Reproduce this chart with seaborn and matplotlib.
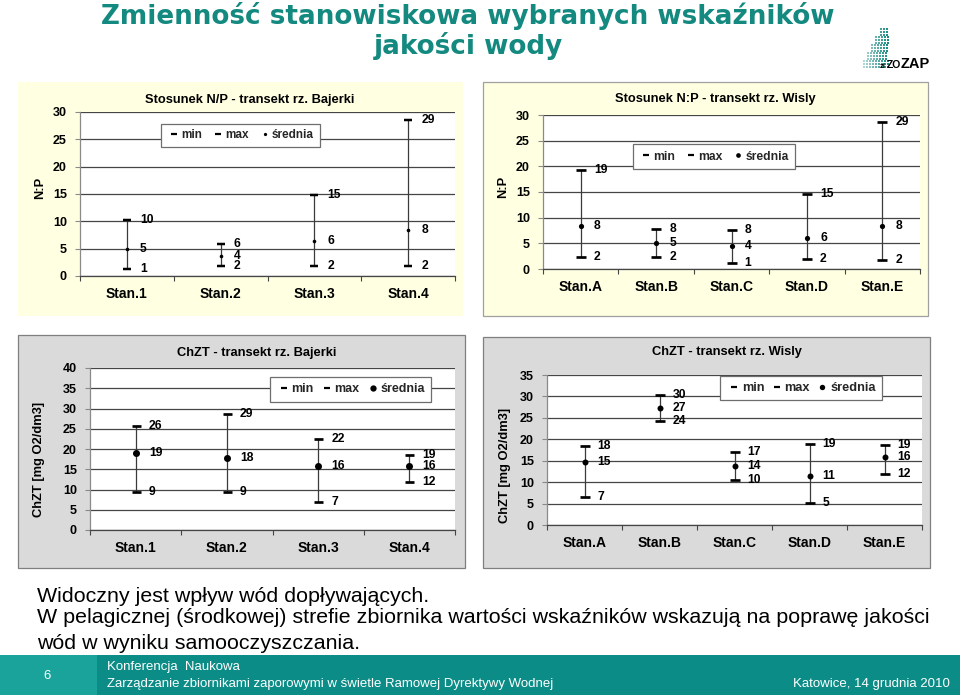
import numpy as np
import pandas as pd
import matplotlib
matplotlib.use("Agg")
import matplotlib.pyplot as plt
from matplotlib.patches import Rectangle
from matplotlib.lines import Line2D
import seaborn as sns

# ---------------- data ----------------
np_bajerki_stations = ["Stan.1", "Stan.2", "Stan.3", "Stan.4"]
np_bajerki_min = [1.2, 1.9, 1.9, 1.9]
np_bajerki_max = [10.2, 5.9, 14.8, 28.6]
np_bajerki_mean = [5.0, 3.7, 6.4, 8.4]

np_wisla_stations = ["Stan.A", "Stan.B", "Stan.C", "Stan.D", "Stan.E"]
np_wisla_min = [2.3, 2.3, 1.2, 1.9, 1.7]
np_wisla_max = [19.2, 7.8, 7.6, 14.6, 28.6]
np_wisla_mean = [8.4, 5.1, 4.4, 6.0, 8.3]

chzt_bajerki_stations = ["Stan.1", "Stan.2", "Stan.3", "Stan.4"]
chzt_bajerki_min = [9.4, 9.3, 6.8, 11.8]
chzt_bajerki_max = [25.6, 28.7, 22.4, 18.6]
chzt_bajerki_mean = [19.1, 17.7, 15.8, 15.8]

chzt_wisla_stations = ["Stan.A", "Stan.B", "Stan.C", "Stan.D", "Stan.E"]
chzt_wisla_min = [6.6, 24.3, 10.4, 5.1, 11.8]
chzt_wisla_max = [18.4, 30.4, 17.0, 18.9, 18.6]
chzt_wisla_mean = [14.6, 27.4, 13.8, 11.4, 15.9]

legend_labels = ["min", "max", "średnia"]

panel_titles = ["Stosunek N/P - transekt rz. Bajerki",
                "Stosunek N:P - transekt rz. Wisly",
                "ChZT - transekt rz. Bajerki",
                "ChZT - transekt rz. Wisly"]
panel_ylabels = ["N:P", "N:P", "ChZT [mg O2/dm3]", "ChZT [mg O2/dm3]"]
panel_ymax = [30, 30, 40, 35]

slide_title = ["Zmienność stanowiskowa wybranych wskaźników", "jakości wody"]
body_lines = ["Widoczny jest wpływ wód dopływających.",
              "W pelagicznej (środkowej) strefie zbiornika wartości wskaźników wskazują na poprawę jakości",
              "wód w wyniku samooczyszczania."]
footer_num = "6"
footer_lines = ["Konferencja  Naukowa",
                "Zarządzanie zbiornikami zaporowymi w świetle Ramowej Dyrektywy Wodnej"]
footer_right = "Katowice, 14 grudnia 2010"
logo_parts = ["zi", "ZO", "ZAP"]

# ---------------- style ----------------
sns.set_theme(style="ticks")
plt.rcParams['font.family'] = ['Liberation Sans', 'DejaVu Sans']

W, H = 960, 695
fig = plt.figure(figsize=(W / 100, H / 100), dpi=100)
fig.patch.set_facecolor("white")
TEAL = "#13897f"


def fx(x):
    return x / W


def fy(y):
    return 1 - y / H


def frect(l, t, r, b):
    return [l / W, 1 - b / H, (r - l) / W, (b - t) / H]


def add_rect(l, t, r, b, fc, ec="none", lw=0.0, z=-5, alpha=1.0):
    fig.add_artist(Rectangle((l / W, 1 - b / H), (r - l) / W, (b - t) / H,
                             transform=fig.transFigure, facecolor=fc,
                             edgecolor=ec, linewidth=lw, zorder=z, alpha=alpha))


renderer = fig.canvas.get_renderer()


def fit_width(t, target_px):
    for _ in range(3):
        w = t.get_window_extent(renderer).width
        t.set_fontsize(t.get_fontsize() * target_px / w)
    return t.get_fontsize()


# ---------------- panels ----------------
panel_layout = [
    dict(bg=(18, 82, 463, 316), bgc="#FFFFE1", ec="none",
         plot=(80, 112, 455, 276), title=(250, 100), ylab=(40, 188),
         leg=(161, 123, 320, 148), dash=8.7, th=2.5, dot=3.6, lfs=8.5),
    dict(bg=(483, 82, 928, 316), bgc="#FFFFE1", ec="#a0a0a0",
         plot=(543, 115, 920, 269), title=(715, 99), ylab=(503, 187),
         leg=(633, 144, 795, 169), dash=10, th=2.7, dot=5.2, lfs=8.7),
    dict(bg=(18, 335, 465, 568), bgc="#DADADA", ec="#7f7f7f",
         plot=(90, 368, 455, 530), title=(257, 353), ylab=(39, 459),
         leg=(270, 377, 431, 402), dash=9, th=2.7, dot=7, lfs=9.0),
    dict(bg=(483, 337, 930, 568), bgc="#DADADA", ec="#7f7f7f",
         plot=(547, 375, 922, 525), title=(727, 352), ylab=(505, 465),
         leg=(720, 376, 882, 400), dash=10, th=2.7, dot=6, lfs=9.2),
]

panel_data = [
    (np_bajerki_stations, np_bajerki_min, np_bajerki_max, np_bajerki_mean),
    (np_wisla_stations, np_wisla_min, np_wisla_max, np_wisla_mean),
    (chzt_bajerki_stations, chzt_bajerki_min, chzt_bajerki_max, chzt_bajerki_mean),
    (chzt_wisla_stations, chzt_wisla_min, chzt_wisla_max, chzt_wisla_mean),
]

PX = 0.72  # points per pixel

for k, (lay, (stations, mins, maxs, means)) in enumerate(zip(panel_layout, panel_data)):
    add_rect(*lay["bg"], fc=lay["bgc"], ec=lay["ec"], lw=0.9 if lay["ec"] != "none" else 0)
    ax = fig.add_axes(frect(*lay["plot"]))
    ax.set_facecolor("white")
    n = len(stations)
    df = pd.DataFrame({"pos": np.arange(n), "stan": stations,
                       "min": mins, "max": maxs, "mean": means})

    # high-low lines
    ax.vlines(df["pos"], df["min"], df["max"], color="#3a3a3a", lw=0.9, zorder=3)
    dash_s = (lay["dash"] * PX) ** 2
    for col in ["min", "max"]:
        sns.scatterplot(data=df, x="pos", y=col, marker="_", s=dash_s,
                        color="black", linewidth=lay["th"] * PX, ax=ax,
                        zorder=4, legend=False)
    sns.scatterplot(data=df, x="pos", y="mean", marker="o", s=(lay["dot"] * PX) ** 2,
                    color="black", edgecolor="black", linewidth=0, ax=ax,
                    zorder=5, legend=False)

    for col in ["min", "max", "mean"]:
        for xi, v in zip(df["pos"], df[col]):
            ax.annotate(f"{int(np.floor(v + 0.5))}", xy=(xi, v), xytext=(9.5, 0),
                        textcoords="offset points", ha="left", va="center",
                        fontsize=8.7, fontweight="bold", color="black", zorder=6)

    ymax = panel_ymax[k]
    ax.set_xlim(-0.5, n - 0.5)
    ax.set_ylim(0, ymax)
    ax.set_yticks(np.arange(0, ymax + 1, 5))
    ax.set_xticks(df["pos"])
    ax.set_xticklabels(stations)
    ax.set_xticks(np.arange(n + 1) - 0.5, minor=True)
    ax.set_xlabel("")
    ax.set_ylabel("")
    ax.yaxis.grid(True, color="#454545", lw=0.9)
    ax.xaxis.grid(False)
    ax.set_axisbelow(True)
    for s in ["top", "right"]:
        ax.spines[s].set_visible(False)
    ax.spines["left"].set_color("#8a8a8a")
    ax.spines["left"].set_linewidth(0.9)
    ax.spines["bottom"].set_color("#454545")
    ax.spines["bottom"].set_linewidth(0.9)
    ax.tick_params(axis="y", which="major", left=True, length=3.5, width=0.8,
                   color="#8a8a8a", pad=6, labelsize=9)
    ax.tick_params(axis="x", which="major", bottom=True, length=0, pad=8, labelsize=10)
    ax.tick_params(axis="x", which="minor", bottom=True, length=3.5, width=0.8,
                   color="#454545", direction="out")
    for lab in ax.get_xticklabels() + ax.get_yticklabels():
        lab.set_fontweight("bold")
        lab.set_color("black")

    # title & y label
    fig.text(fx(lay["title"][0]), fy(lay["title"][1]), panel_titles[k], ha="center",
             va="center", fontsize=9.3, fontweight="bold", color="black")
    fig.text(fx(lay["ylab"][0]), fy(lay["ylab"][1]), panel_ylabels[k], ha="center",
             va="center", rotation=90, fontsize=9.3, fontweight="bold", color="black")

    # legend
    l, t, r, b = lay["leg"]
    handles = [
        Line2D([], [], ls="none", marker="_", color="black",
               markersize=6 * PX, markeredgewidth=2.2 * PX),
        Line2D([], [], ls="none", marker="_", color="black",
               markersize=6 * PX, markeredgewidth=2.2 * PX),
        Line2D([], [], ls="none", marker="o", color="black",
               markersize=lay["dot"] * PX * 0.9, markeredgewidth=0),
    ]
    leg = ax.legend(handles, legend_labels, ncol=3, loc="center", mode="expand",
                    bbox_to_anchor=(l / W, 1 - b / H, (r - l) / W, (b - t) / H),
                    bbox_transform=fig.transFigure, frameon=True, fancybox=False,
                    edgecolor="#6e6e6e", facecolor="white", framealpha=1,
                    borderpad=0.5, handlelength=1.2, handletextpad=0.0,
                    columnspacing=0.5, borderaxespad=0,
                    prop={"weight": "bold", "size": lay["lfs"]})
    leg.get_frame().set_linewidth(0.9)
    leg.set_zorder(10)

# ---------------- slide title ----------------
title_family = ["DejaVu Sans"]
t1 = fig.text(fx(467.5), fy(24), slide_title[0], ha="center", va="baseline",
              color=TEAL, fontweight="bold", family=title_family, fontsize=20)
fs = fit_width(t1, 735)
fig.text(fx(468), fy(54), slide_title[1], ha="center", va="baseline",
         color=TEAL, fontweight="bold", family=title_family, fontsize=fs)

# ---------------- logo ----------------
steps = [(60, 68, 863), (52, 60, 867), (44, 52, 871), (36, 44, 875), (28, 36, 880)]
for (y0, y1, x0) in steps:
    yy = y0
    while yy < y1:
        xx = x0
        while xx < 888:
            alpha = 0.3 + 0.7 * (xx - 862) / 26
            add_rect(xx, yy, xx + 2.3, yy + 2.3, fc=TEAL, z=1, alpha=min(1.0, alpha))
            xx += 3
        yy += 3
logo_family = ["Liberation Sans Narrow", "Liberation Sans", "DejaVu Sans"]
fig.text(fx(880), fy(68), logo_parts[0], ha="left", va="baseline", fontsize=5.5,
         fontweight="bold", family=logo_family, color="black", zorder=3)
fig.text(fx(887), fy(68), logo_parts[1], ha="left", va="baseline", fontsize=7.5,
         fontweight="bold", family=logo_family, color="black", zorder=3)
fig.text(fx(901), fy(68), logo_parts[2], ha="left", va="baseline", fontsize=10.5,
         fontweight="bold", family=logo_family, color="black", zorder=3)

# ---------------- body text ----------------
body_family = ["Liberation Sans", "DejaVu Sans"]
b2 = fig.text(fx(37), fy(623), body_lines[1], ha="left", va="baseline",
              fontsize=15, color="black", family=body_family)
bfs = fit_width(b2, 888)
fig.text(fx(37), fy(602), body_lines[0], ha="left", va="baseline", fontsize=bfs,
         color="black", family=body_family)
fig.text(fx(37), fy(649), body_lines[2], ha="left", va="baseline", fontsize=bfs,
         color="black", family=body_family, zorder=1)

# ---------------- footer ----------------
add_rect(0, 655, 960, 695, fc="#0c8c86", z=2)
add_rect(0, 655, 97, 695, fc="#19a39a", z=2)
fig.text(fx(47), fy(676), footer_num, ha="center", va="center", color="white",
         fontsize=9.5, zorder=3)
f1 = fig.text(fx(107), fy(667), footer_lines[0], ha="left", va="center", color="white",
              fontsize=9.5, zorder=3)
f2 = fig.text(fx(107), fy(684), footer_lines[1], ha="left", va="center", color="white",
              fontsize=9.5, zorder=3)
ffs = fit_width(f2, 449)
f1.set_fontsize(ffs)
f3 = fig.text(fx(950), fy(684), footer_right, ha="right", va="center", color="white",
              fontsize=ffs, zorder=3)

fig.savefig("out.png", dpi=100, facecolor="white")
